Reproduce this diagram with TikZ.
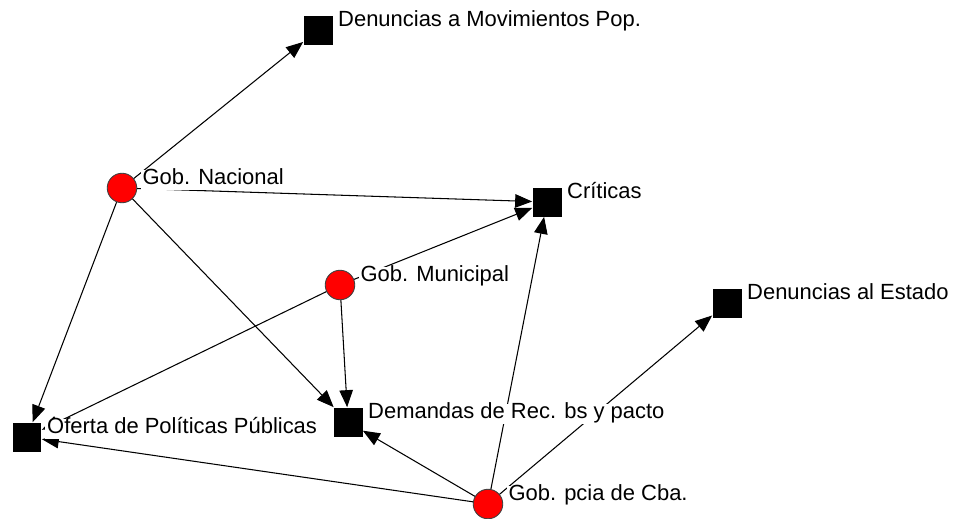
\documentclass[tikz,border=0pt]{standalone}
\usepackage{fontspec}
\setmainfont{Liberation Sans}
\usetikzlibrary{positioning,arrows.meta}

\begin{document}
\begin{tikzpicture}[x=0.02cm, y=-0.02cm,
		actor/.style = {draw=black!75, fill=red, circle, minimum size=0.59cm, inner sep=0pt, line width=0.5pt},
		tema/.style = {fill=black, minimum size=0.58cm, inner sep=0pt},
		lbl/.style = {fill=white, inner xsep=0.04cm, inner ysep=0.04cm, text height=0.75em, text depth=0.2em, font=\fontsize{12.5}{15}\selectfont, yshift=0.16cm},
		rel/.style = {-{Triangle[length=0.34cm, width=0.27cm]}, line width=0.6pt}]
		\useasboundingbox (0,0) rectangle (954,518);
		\node[actor] (1) at (122,188) {};
		\node[actor] (2) at (340,285) {};
		\node[actor] (3) at (488,504) {};
		\node[tema] (4) at (318,30) {};
		\node[tema] (5) at (547,202) {};
		\node[tema] (6) at (727,303) {};
		\node[tema] (7) at (348,422) {};
		\node[tema] (8) at (27,437) {};
		\draw[rel] (1) -- (4);
		\draw[rel] (1) -- (5);
		\draw[rel] (1) -- (7);
		\draw[rel] (1) -- (8);
		\draw[rel] (2) -- (5);
		\draw[rel] (2) -- (7);
		\draw[rel] (2) -- (8);
		\draw[rel] (3) -- (5);
		\draw[rel] (3) -- (6);
		\draw[rel] (3) -- (7);
		\draw[rel] (3) -- (8);
		\node[lbl, right=0.06cm of 1] (t1) {Gob. Nacional};
		\node[lbl, right=0.06cm of 2] (t2) {Gob. Municipal};
		\node[lbl, right=0.06cm of 3] (t3) {Gob. pcia de Cba.};
		\node[lbl, right=0.06cm of 4] (t4) {Denuncias a Movimientos Pop.};
		\node[lbl, right=0.06cm of 5] (t5) {Críticas};
		\node[lbl, right=0.06cm of 6] (t6) {Denuncias al Estado};
		\node[lbl, right=0.06cm of 7] (t7) {Demandas de Rec. bs y pacto};
		\node[lbl, right=0.06cm of 8] (t8) {Oferta de Políticas Públicas};
	\end{tikzpicture}
\end{document}
